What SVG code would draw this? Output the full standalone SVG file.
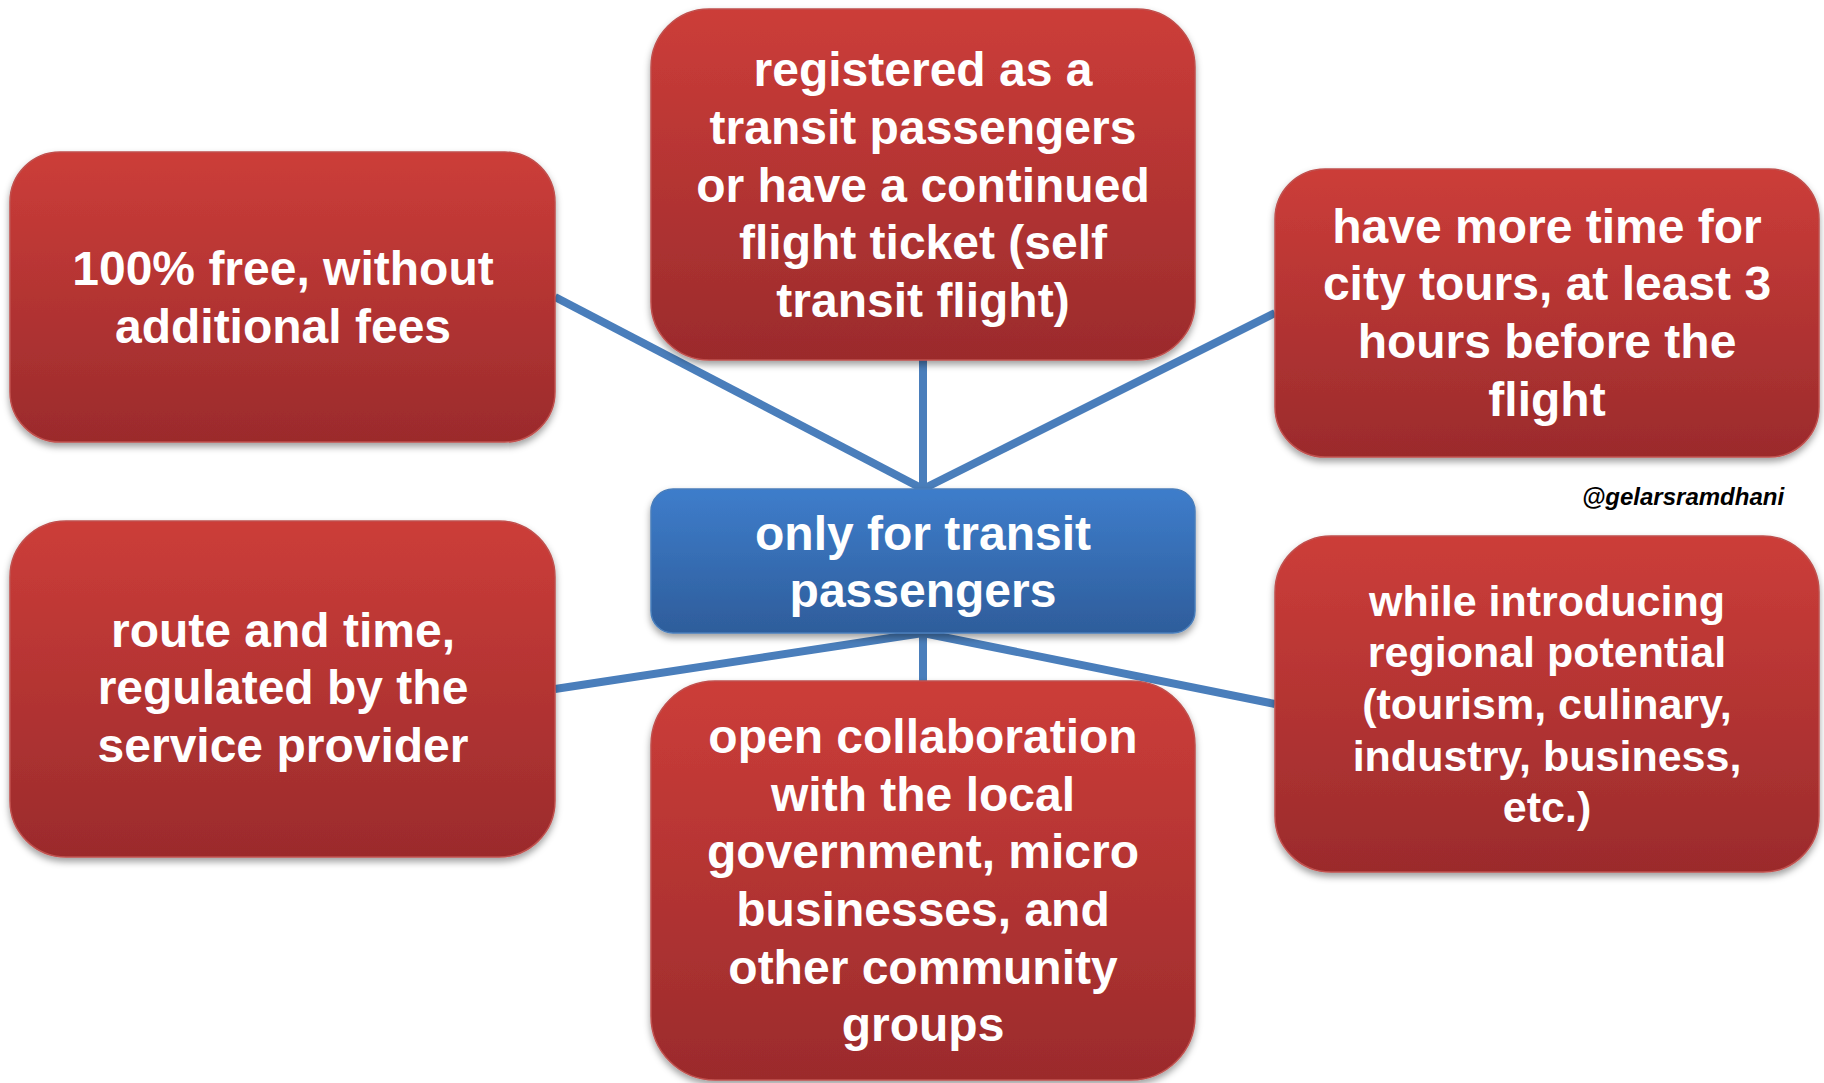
<svg xmlns="http://www.w3.org/2000/svg" width="1824" height="1083" viewBox="0 0 1824 1083">
<defs>
<linearGradient id="red" x1="0" y1="0" x2="0" y2="1">
<stop offset="0" stop-color="#cc3d39"/>
<stop offset="1" stop-color="#9b2b2c"/>
</linearGradient>
<linearGradient id="blue" x1="0" y1="0" x2="0" y2="1">
<stop offset="0" stop-color="#3e7dcb"/>
<stop offset="1" stop-color="#2e5d9b"/>
</linearGradient>
<filter id="sh" x="-10%" y="-10%" width="120%" height="125%">
<feDropShadow dx="0" dy="4" stdDeviation="3.5" flood-color="#000" flood-opacity="0.38"/>
</filter>
</defs>
<style>
.r{fill:url(#red);stroke:#c0504d;stroke-width:1.5;filter:url(#sh)}
.b{fill:url(#blue);stroke:#4a7ebb;stroke-width:1.5;filter:url(#sh)}
.t{font-family:"Liberation Sans",Arial,sans-serif;font-weight:bold;font-size:48px;fill:#fff;text-anchor:middle}
.s{font-size:43px}
.c{stroke:#4a7ebb;stroke-width:8;fill:none}
.w{font-family:"Liberation Sans",Arial,sans-serif;font-weight:bold;font-style:italic;font-size:24px;fill:#000;text-anchor:middle}
</style>
<rect width="1824" height="1083" fill="#fff"/>
<g id="connectors">
<line class="c" x1="555" y1="297" x2="923" y2="489"/>
<line class="c" x1="923" y1="360" x2="923" y2="489"/>
<line class="c" x1="1275" y1="313" x2="923" y2="489"/>
<line class="c" x1="555" y1="689" x2="923" y2="633"/>
<line class="c" x1="923" y1="633" x2="923" y2="682"/>
<line class="c" x1="1275" y1="704" x2="923" y2="633"/>
</g>
<g id="node-free">
<rect class="r" x="10" y="152" width="545" height="290" rx="50"/>
<text class="t" x="283" y="285">100% free, without</text>
<text class="t" x="283" y="343">additional fees</text>
</g>
<g id="node-registered">
<rect class="r" x="651" y="9" width="544" height="351" rx="58"/>
<text class="t" x="923" y="86">registered as a</text>
<text class="t" x="923" y="144">transit passengers</text>
<text class="t" x="923" y="202">or have a continued</text>
<text class="t" x="923" y="259">flight ticket (self</text>
<text class="t" x="923" y="317">transit flight)</text>
</g>
<g id="node-time">
<rect class="r" x="1275" y="169" width="544" height="288" rx="50"/>
<text class="t" x="1547" y="243">have more time for</text>
<text class="t" x="1547" y="300">city tours, at least 3</text>
<text class="t" x="1547" y="358">hours before the</text>
<text class="t" x="1547" y="416">flight</text>
</g>
<g id="node-center">
<rect class="b" x="651" y="489" width="544" height="144" rx="22"/>
<text class="t" x="923" y="550">only for transit</text>
<text class="t" x="923" y="607">passengers</text>
</g>
<g id="node-route">
<rect class="r" x="10" y="521" width="545" height="336" rx="56"/>
<text class="t" x="283" y="647">route and time,</text>
<text class="t" x="283" y="704">regulated by the</text>
<text class="t" x="283" y="762">service provider</text>
</g>
<g id="node-collab">
<rect class="r" x="651" y="681" width="544" height="399" rx="64"/>
<text class="t" x="923" y="753">open collaboration</text>
<text class="t" x="923" y="811">with the local</text>
<text class="t" x="923" y="868">government, micro</text>
<text class="t" x="923" y="926">businesses, and</text>
<text class="t" x="923" y="984">other community</text>
<text class="t" x="923" y="1041">groups</text>
</g>
<g id="node-regional">
<rect class="r" x="1275" y="536" width="544" height="336" rx="56"/>
<text class="t s" x="1547" y="616">while introducing</text>
<text class="t s" x="1547" y="667">regional potential</text>
<text class="t s" x="1547" y="719">(tourism, culinary,</text>
<text class="t s" x="1547" y="771">industry, business,</text>
<text class="t s" x="1547" y="822">etc.)</text>
</g>
<text class="w" x="1683" y="505">@gelarsramdhani</text>
</svg>
